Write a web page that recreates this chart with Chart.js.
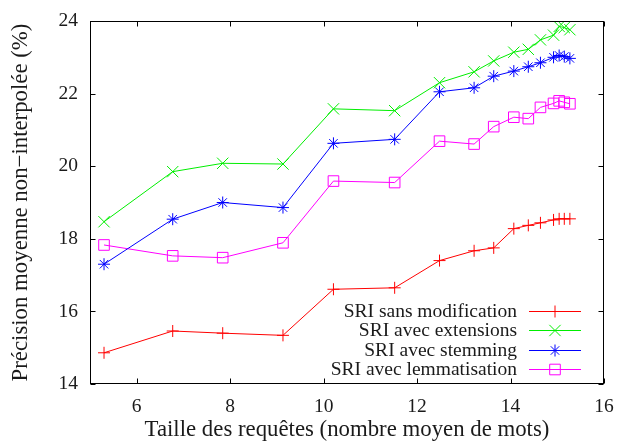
<!DOCTYPE html>
<html><head><meta charset="utf-8">
<script src="https://cdn.jsdelivr.net/npm/chart.js@4/dist/chart.umd.min.js"></script>
<style>html,body{margin:0;padding:0;background:#fff}canvas{display:block}</style>
</head><body>
<canvas id="c" width="618" height="441"></canvas>
<script>
// ---- data ----
const xValues = [5.3, 6.77, 7.84, 9.13, 10.21, 11.52, 12.48, 13.22, 13.64, 14.07, 14.38, 14.64, 14.92, 15.04, 15.15, 15.27];
const sansModification = [14.86, 15.46, 15.40, 15.34, 16.61, 16.65, 17.40, 17.67, 17.75, 18.28, 18.37, 18.44, 18.52, 18.55, 18.55, 18.55];
const avecExtensions   = [18.47, 19.85, 20.08, 20.06, 21.58, 21.53, 22.30, 22.60, 22.90, 23.14, 23.22, 23.48, 23.61, 23.85, 23.82, 23.76];
const avecStemming     = [17.30, 18.54, 19.00, 18.86, 20.63, 20.74, 22.05, 22.16, 22.48, 22.62, 22.74, 22.85, 23.00, 23.05, 23.02, 22.97];
const avecLemmatisation= [17.83, 17.53, 17.48, 17.89, 19.59, 19.55, 20.69, 20.61, 21.09, 21.35, 21.31, 21.62, 21.73, 21.80, 21.76, 21.72];
const xTicks = [6, 8, 10, 12, 14, 16];
const yTicks = [14, 16, 18, 20, 22, 24];
const seriesLabels = ['SRI sans modification', 'SRI avec extensions', 'SRI avec stemming', 'SRI avec lemmatisation'];
const xTitle = 'Taille des requêtes (nombre moyen de mots)';
const yTitle = 'Précision moyenne non\u2212interpolée (%)';

// ---- styles ----
const seriesValues = [sansModification, avecExtensions, avecStemming, avecLemmatisation];
const seriesColors = ['#ff0000', '#00ee00', '#0000ff', '#ff00ff'];
const seriesPoints = ['cross', 'crossRot', 'star', 'rect'];
const seriesRadius = [6, 8, 6, 7.5];
const FONT = "'Liberation Serif', 'DejaVu Serif', serif";
const TEXT = '#1a1a1a';

const datasets = seriesValues.map((vals, i) => ({
  label: seriesLabels[i],
  data: xValues.map((x, j) => ({x: x, y: vals[j]})),
  borderColor: seriesColors[i],
  backgroundColor: 'rgba(0,0,0,0)',
  pointBorderColor: seriesColors[i],
  pointBackgroundColor: 'rgba(0,0,0,0)',
  pointStyle: seriesPoints[i],
  pointRadius: seriesRadius[i],
  pointBorderWidth: 1,
  borderWidth: 1,
  showLine: true,
  tension: 0
}));

const framePlugin = {
  id: 'frame',
  afterDraw(chart) {
    const {ctx, chartArea: a, scales} = chart;
    const xs = scales.x, ys = scales.y;
    ctx.save();
    ctx.strokeStyle = '#000';
    ctx.lineWidth = 1;
    const l = Math.round(a.left) + 0.5, r = Math.round(a.right) - 0.5;
    const t = Math.round(a.top) + 0.5, b = Math.round(a.bottom) - 0.5;
    ctx.strokeRect(l, t, r - l, b - t);
    const L = 5;
    ctx.beginPath();
    xs.ticks.forEach(tk => {
      const px = Math.round(xs.getPixelForValue(tk.value)) + 0.5;
      ctx.moveTo(px, b); ctx.lineTo(px, b - L);
      ctx.moveTo(px, t); ctx.lineTo(px, t + L);
    });
    ys.ticks.forEach(tk => {
      const py = Math.round(ys.getPixelForValue(tk.value)) + 0.5;
      ctx.moveTo(l, py); ctx.lineTo(l + L, py);
      ctx.moveTo(r, py); ctx.lineTo(r - L, py);
    });
    ctx.stroke();

    // legend (gnuplot style: right-aligned text, sample on the right)
    const textRight = a.right - 87;
    const sx0 = a.right - 75, sx1 = a.right - 23, sxm = (sx0 + sx1) / 2;
    const y0 = a.bottom - 73.3, dy = 19.4;
    ctx.font = "19.5px " + FONT;
    ctx.textAlign = 'right';
    ctx.textBaseline = 'alphabetic';
    chart.data.datasets.forEach((ds, i) => {
      const yy = y0 + i * dy;
      ctx.fillStyle = TEXT;
      ctx.fillText(ds.label, textRight, yy + 6.3);
      ctx.strokeStyle = ds.borderColor;
      ctx.lineWidth = 1;
      ctx.beginPath(); ctx.moveTo(sx0, Math.round(yy) + 0.5); ctx.lineTo(sx1, Math.round(yy) + 0.5); ctx.stroke();
      ctx.fillStyle = 'rgba(0,0,0,0)';
      Chart.helpers.drawPoint(ctx, {pointStyle: ds.pointStyle, radius: ds.pointRadius, rotation: 0, borderWidth: 1}, sxm, Math.round(yy) + 0.5);
    });
    ctx.restore();
  }
};

new Chart(document.getElementById('c'), {
  type: 'scatter',
  data: {datasets: datasets},
  plugins: [framePlugin],
  options: {
    responsive: false,
    animation: false,
    devicePixelRatio: 1,
    layout: {padding: {left: 0, right: 14, top: 21, bottom: 0}},
    plugins: {legend: {display: false}, tooltip: {enabled: false}},
    scales: {
      x: {
        type: 'linear', min: 5, max: 16,
        afterBuildTicks: s => { s.ticks = xTicks.map(v => ({value: v})); },
        afterFit: s => { s.height = 57; s.paddingRight = 0; s.paddingLeft = 0; },
        grid: {display: false, drawTicks: false},
        border: {display: false},
        ticks: {color: TEXT, padding: 13, maxRotation: 0, font: {family: FONT, size: 19.5, lineHeight: 1}},
        title: {display: true, text: xTitle, color: TEXT, padding: {top: 0, bottom: -0.6}, font: {family: FONT, size: 22.8, lineHeight: 1}}
      },
      y: {
        type: 'linear', min: 14, max: 24,
        afterBuildTicks: s => { s.ticks = yTicks.map(v => ({value: v})); },
        afterFit: s => { s.width = 90; s.paddingTop = 0; s.paddingBottom = 0; },
        grid: {display: false, drawTicks: false},
        border: {display: false},
        ticks: {color: TEXT, padding: 12, font: {family: FONT, size: 19.5, lineHeight: 1}},
        title: {display: true, text: yTitle, color: TEXT, padding: {top: 9.2, bottom: 0}, font: {family: FONT, size: 22.8, lineHeight: 1}}
      }
    }
  }
});
</script>
</body></html>
